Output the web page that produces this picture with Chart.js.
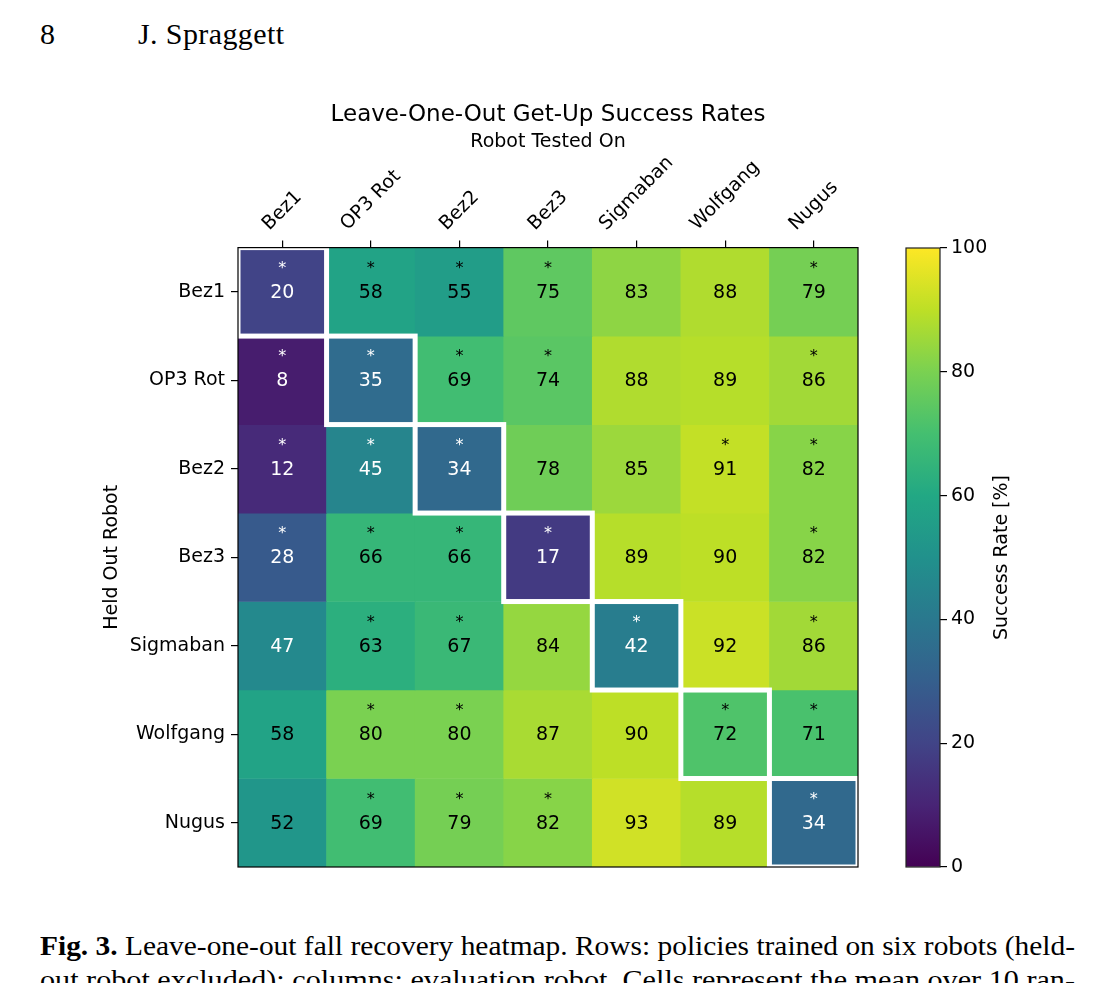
<!DOCTYPE html>
<html>
<head>
<meta charset="utf-8">
<script src="https://cdn.jsdelivr.net/npm/chart.js@4.4.1/dist/chart.umd.min.js"></script>
<style>
  html, body { margin: 0; padding: 0; background: #fff; }
  body { width: 1116px; height: 983px; overflow: hidden; position: relative; font-family: "Liberation Serif", serif; color: #000; }
  .page { position: absolute; font-size: 30px; line-height: 30px; white-space: nowrap; letter-spacing: 0.4px; }
  .cap { position: absolute; left: 40px; font-size: 28px; line-height: 28px; white-space: nowrap; transform-origin: 0 0; }
  #heatWrap { position: absolute; left: 90px; top: 80px; width: 800px; height: 810px; }
  #barWrap { position: absolute; left: 896px; top: 230px; width: 134px; height: 660px; }
</style>
</head>
<body>
<div class="page" style="left:40px; top:19px;">8</div>
<div class="page" style="left:138px; top:19px;">J. Spraggett</div>
<div id="heatWrap"><canvas id="heatmap"></canvas></div>
<div id="barWrap"><canvas id="colorbar"></canvas></div>
<div class="cap" id="cap1" style="top:932px;"><b>Fig. 3.</b> Leave-one-out fall recovery heatmap. Rows: policies trained on six robots (held-</div>
<div class="cap" id="cap2" style="top:966px;">out robot excluded); columns: evaluation robot. Cells represent the mean over 10 ran-</div>
<script>
const testedOn = ['Bez1', 'OP3 Rot', 'Bez2', 'Bez3', 'Sigmaban', 'Wolfgang', 'Nugus'];
const heldOut = ['Bez1', 'OP3 Rot', 'Bez2', 'Bez3', 'Sigmaban', 'Wolfgang', 'Nugus'];

// success rate [%]; rows = held out robot, columns = robot tested on
const successRates = [
    [20, 58, 55, 75, 83, 88, 79],
    [8, 35, 69, 74, 88, 89, 86],
    [12, 45, 34, 78, 85, 91, 82],
    [28, 66, 66, 17, 89, 90, 82],
    [47, 63, 67, 84, 42, 92, 86],
    [58, 80, 80, 87, 90, 72, 71],
    [52, 69, 79, 82, 93, 89, 34]
];

// 1 = cell marked with *
const significant = [
    [1, 1, 1, 1, 0, 0, 1],
    [1, 1, 1, 1, 0, 0, 1],
    [1, 1, 1, 0, 0, 1, 1],
    [1, 1, 1, 1, 0, 0, 1],
    [0, 1, 1, 0, 1, 0, 1],
    [0, 1, 1, 0, 0, 1, 1],
    [0, 1, 1, 1, 0, 0, 1]
];

const colorMin = 0;
const colorMax = 100;
const colorbarTicks = [0, 20, 40, 60, 80, 100];

// viridis, 11 stops
const viridis = ['#440154', '#482475', '#414487', '#355f8d', '#2a788e', '#21918c',
                 '#22a884', '#44bf70', '#7ad151', '#bddf26', '#fde725'];

function hexToRgb(h) {
    return [parseInt(h.slice(1, 3), 16), parseInt(h.slice(3, 5), 16), parseInt(h.slice(5, 7), 16)];
}

function viridisAt(t) {
    t = Math.max(0, Math.min(1, t));
    const pos = t * (viridis.length - 1);
    const i = Math.min(Math.floor(pos), viridis.length - 2);
    const f = pos - i;
    const a = hexToRgb(viridis[i]);
    const b = hexToRgb(viridis[i + 1]);
    const c = a.map((v, k) => Math.round(v + (b[k] - v) * f));
    return `rgb(${c[0]}, ${c[1]}, ${c[2]})`;
}

Chart.defaults.font.family = '"DejaVu Sans", sans-serif';
Chart.defaults.color = '#000';

const FONT = 19;

// rotated column labels, centred on the tick like matplotlib's ha='center'
const topLabels = {
    id: 'topLabels',
    afterDraw(chart) {
        const sx = chart.scales.x;
        const c = chart.ctx;
        c.save();
        c.font = `${FONT}px "DejaVu Sans"`;
        c.fillStyle = '#000';
        c.textAlign = 'center';
        c.textBaseline = 'middle';
        testedOn.forEach((lab, i) => {
            const w = c.measureText(lab).width;
            const half = (w + FONT * 0.95) * Math.SQRT1_2 / 2;
            const px = sx.getPixelForTick(i);
            const py = sx.bottom - 14 - half;
            c.save();
            c.translate(px, py);
            c.rotate(-Math.PI / 4);
            c.fillText(lab, 0, 0);
            c.restore();
        });
        c.restore();
    }
};

const cellText = {
    id: 'cellText',
    afterDatasetsDraw(chart) {
        const {ctx, chartArea, scales: {x, y}} = chart;
        ctx.save();
        ctx.textAlign = 'center';
        ctx.textBaseline = 'alphabetic';
        successRates.forEach((row, r) => {
            row.forEach((v, c) => {
                const cx = x.getPixelForValue(c);
                const cy = y.getPixelForValue(r + 0.5);
                ctx.fillStyle = v < 50 ? '#fff' : '#000';
                ctx.font = `${FONT}px "DejaVu Sans"`;
                ctx.fillText(String(v), cx, cy + 6);
                if (significant[r][c]) {
                    ctx.font = '16px "DejaVu Sans"';
                    ctx.fillText('*', cx, cy - 19);
                }
            });
        });

        // white outline around the held-out cells
        ctx.beginPath();
        ctx.rect(chartArea.left, chartArea.top, chartArea.width, chartArea.height);
        ctx.clip();
        ctx.strokeStyle = '#fff';
        ctx.lineWidth = 5;
        heldOut.forEach((name, r) => {
            const el = chart.getDatasetMeta(r).data[testedOn.indexOf(name)];
            const p = el.getProps(['x', 'y', 'base', 'width'], true);
            ctx.strokeRect(p.x - p.width / 2, Math.min(p.y, p.base), p.width, Math.abs(p.base - p.y));
        });
        ctx.restore();
    },
    afterDraw(chart) {
        const {ctx, chartArea} = chart;
        ctx.save();
        ctx.strokeStyle = '#000';
        ctx.lineWidth = 1.2;
        ctx.strokeRect(chartArea.left, chartArea.top, chartArea.width, chartArea.height);
        ctx.restore();
    }
};

const datasets = heldOut.map((name, r) => ({
    label: name,
    data: testedOn.map(() => [r, r + 1]),
    backgroundColor: ctx => viridisAt((successRates[r][ctx.dataIndex] - colorMin) / (colorMax - colorMin)),
    borderWidth: 0,
    barPercentage: 1,
    categoryPercentage: 1,
    grouped: false
}));

new Chart(document.getElementById('heatmap'), {
    type: 'bar',
    data: { labels: testedOn, datasets: datasets },
    options: {
        animation: false,
        responsive: true,
        maintainAspectRatio: false,
        layout: { padding: { left: 0, top: 0, right: 32, bottom: 23 } },
        plugins: {
            legend: { display: false },
            tooltip: { enabled: false },
            title: {
                display: true,
                text: 'Leave-One-Out Get-Up Success Rates',
                fullSize: false,
                color: '#000',
                font: { size: 23, weight: 'normal' },
                padding: { top: 21, bottom: 0 }
            }
        },
        scales: {
            x: {
                type: 'category',
                position: 'top',
                offset: true,
                ticks: { display: false },
                grid: { offset: false, drawOnChartArea: false, tickLength: 7, color: '#000', lineWidth: 1.2 },
                border: { display: false },
                title: { display: true, text: 'Robot Tested On', color: '#000', font: { size: FONT }, padding: { top: 2, bottom: 0 } },
                afterFit: s => { s.height = 119; }
            },
            y: {
                type: 'linear',
                min: 0,
                max: heldOut.length,
                reverse: true,
                afterBuildTicks: s => { s.ticks = heldOut.map((_, i) => ({ value: i + 0.5 })); },
                ticks: { callback: (v, i) => heldOut[i], font: { size: FONT }, padding: 6, color: '#000', autoSkip: false },
                grid: { drawOnChartArea: false, tickLength: 7, color: '#000', lineWidth: 1.2 },
                border: { display: false },
                title: { display: true, text: 'Held Out Robot', color: '#000', font: { size: FONT }, padding: { top: 11, bottom: 0 } },
                afterFit: s => { s.width = 148; }
            }
        }
    },
    plugins: [cellText, topLabels]
});

// colorbar
const barDecor = {
    id: 'barDecor',
    afterDraw(chart) {
        const {ctx, chartArea} = chart;
        ctx.save();
        ctx.strokeStyle = '#222';
        ctx.lineWidth = 1.2;
        ctx.strokeRect(chartArea.left, chartArea.top, chartArea.width, chartArea.height);
        ctx.font = `${FONT}px "DejaVu Sans"`;
        ctx.fillStyle = '#000';
        ctx.textAlign = 'center';
        ctx.textBaseline = 'middle';
        ctx.translate(chartArea.right + 62, (chartArea.top + chartArea.bottom) / 2);
        ctx.rotate(-Math.PI / 2);
        ctx.fillText('Success Rate [%]', 0, 0);
        ctx.restore();
    }
};

new Chart(document.getElementById('colorbar'), {
    type: 'bar',
    data: {
        labels: [''],
        datasets: [{
            data: [[colorMin, colorMax]],
            backgroundColor: ctx => {
                const area = ctx.chart.chartArea;
                if (!area) return viridis[5];
                const g = ctx.chart.ctx.createLinearGradient(0, area.bottom, 0, area.top);
                viridis.forEach((col, i) => g.addColorStop(i / (viridis.length - 1), col));
                return g;
            },
            borderWidth: 0,
            barPercentage: 1,
            categoryPercentage: 1
        }]
    },
    options: {
        animation: false,
        responsive: true,
        maintainAspectRatio: false,
        layout: { padding: { left: 10, top: 18, right: 0, bottom: 23 } },
        plugins: { legend: { display: false }, tooltip: { enabled: false } },
        scales: {
            x: { display: false },
            y: {
                position: 'right',
                min: colorMin,
                max: colorMax,
                afterBuildTicks: s => { s.ticks = colorbarTicks.map(v => ({ value: v })); },
                ticks: { font: { size: FONT }, padding: 4, color: '#000' },
                grid: { drawOnChartArea: false, tickLength: 7, color: '#000', lineWidth: 1.2 },
                border: { display: false },
                afterFit: s => { s.width = 90; }
            }
        }
    },
    plugins: [barDecor]
});

// stretch caption lines to the text block width
['cap1', 'cap2'].forEach(id => {
    const el = document.getElementById(id);
    const w = el.getBoundingClientRect().width;
    el.style.transform = `scaleX(${1035 / w})`;
});
</script>
</body>
</html>
